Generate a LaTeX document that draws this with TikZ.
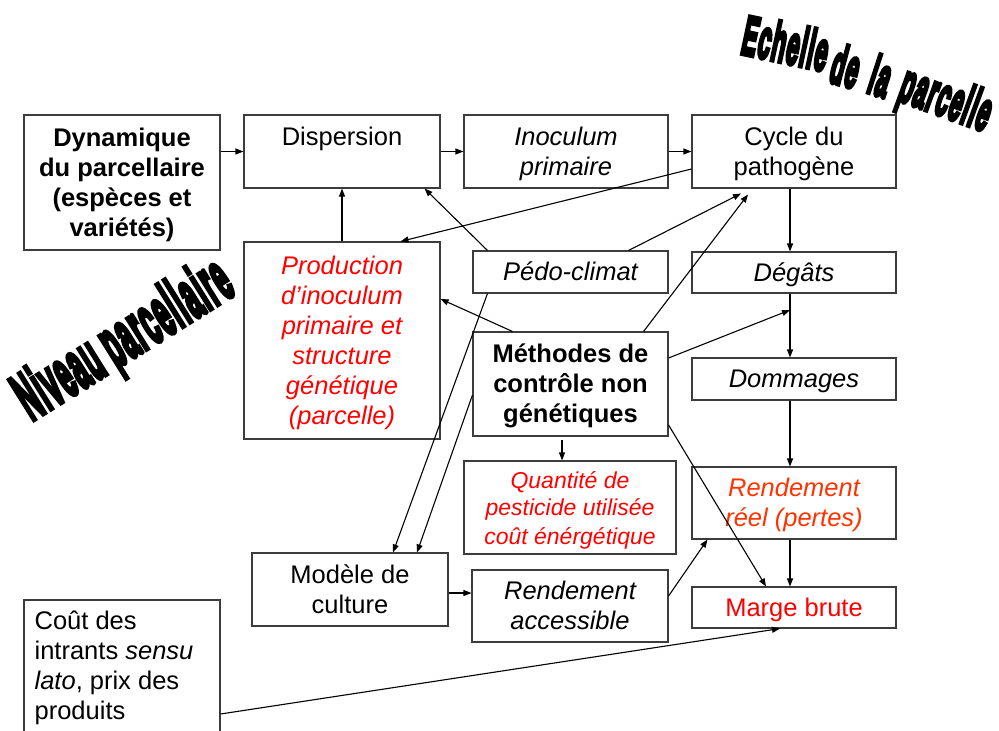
\documentclass[tikz,border=0pt]{standalone}
\usepackage{fontspec}
\setmainfont{Liberation Sans}
\newfontfamily\wafont[FakeBold=8,LetterSpace=5]{Liberation Sans Bold}
\usetikzlibrary{arrows.meta,calc}
\definecolor{boxgray}{RGB}{60,60,60}
\definecolor{txtred}{RGB}{255,0,0}
\definecolor{txtorange}{RGB}{255,51,0}
\newcommand\basefont{\fontsize{25.5}{30}\selectfont}
\newcommand\st{\rule[-5.4pt]{0pt}{28.5pt}}
\begin{document}
\begin{tikzpicture}[x=1pt,y=-1pt,
  box/.style={draw=boxgray, line width=1.1pt, inner sep=0pt, align=center, font=\basefont},
  itbox/.style={box, font=\basefont\itshape},
  bfbox/.style={box, font=\basefont\bfseries},
  conn/.style={line width=1.1pt, -{Triangle[length=8pt,width=6pt]}},
  wordart/.style={inner sep=0pt, font={\wafont\fontsize{24}{24}\selectfont}}
]
\useasboundingbox (0,0) rectangle (999,731);
\clip (0,0) rectangle (999,731);
\fill[white] (0,0) rectangle (999,731);

% boxes
\node[bfbox, minimum width=196pt, minimum height=135pt] (dyn) at (122,182.5) {\st Dynamique\\du parcellaire\\(espèces et\\\st variétés)};
\node[box, minimum width=196pt, minimum height=73pt] (disp) at (342,151.5) {\st Dispersion\\\st\phantom{Dispersion}};
\node[itbox, minimum width=204pt, minimum height=73pt] (inoc) at (566,151.5) {\st Inoculum\\\st primaire};
\node[box, minimum width=204pt, minimum height=73pt] (cycle) at (794,151.5) {\st Cycle du\\\st pathogène};
\node[itbox, text=txtred, minimum width=196pt, minimum height=197pt] (prod) at (342,340.5) {\st Production\\d’inoculum\\primaire et\\structure\\génétique\\\st(parcelle)};
\node[itbox, minimum width=195pt, minimum height=42pt] (pedo) at (570.5,272) {\st Pédo-climat};
\node[itbox, minimum width=204pt, minimum height=41pt] (degats) at (794,272.5) {\st Dégâts};
\node[bfbox, minimum width=195pt, minimum height=104pt] (meth) at (570.5,384) {\st Méthodes de\\contrôle non\\\st génétiques};
\node[itbox, minimum width=204pt, minimum height=42pt] (dom) at (794,379) {\st Dommages};
\node[box, font=\fontsize{23}{27}\selectfont\itshape, text=txtred, minimum width=212pt, minimum height=93pt] (quant) at (570,507.5) {\st Quantité de\\pesticide utilisée\\\st coût énérgétique};
\node[itbox, text=txtorange, minimum width=204pt, minimum height=72pt] (reel) at (794,503) {\st Rendement\\\st réel (pertes)};
\node[box, minimum width=196pt, minimum height=73pt] (modele) at (350,589.5) {\st Modèle de\\\st culture};
\node[itbox, minimum width=196pt, minimum height=72pt] (racc) at (570,606) {\st Rendement\\\st accessible};
\node[box, text=txtred, minimum width=204pt, minimum height=41pt] (marge) at (794,607.5) {\st Marge brute};
\node[box, minimum width=196pt, minimum height=160pt] (cout) at (122,680) {};
\node[anchor=north west, inner sep=0pt, align=left, font=\basefont] (couttxt) at ([xshift=11pt,yshift=-11pt]cout.north west) {Coût des\\intrants \textit{sensu}\\\textit{lato}, prix des\\produits};

% word art
\node[wordart, rotate=32] (niveau) at (125,342) {\scalebox{1.08}[2.8]{Niveau parcellaire}};
\node[wordart, rotate=-12] (w1) at (786,43) {\scalebox{0.95}[2.3]{Echelle}};
\node[wordart, rotate=-15] (w2) at (846,66) {\scalebox{0.95}[2.3]{de}};
\node[wordart, rotate=-18] (w3) at (881,76) {\scalebox{0.95}[2.3]{la}};
\node[wordart, rotate=-20] (w4) at (945,102) {\scalebox{0.95}[2.3]{parcelle}};

% connectors
\draw[conn] (dyn.east |- disp.west) -- (disp.west);
\draw[conn] (disp.east) -- (inoc.west);
\draw[conn] (inoc.east) -- (cycle.west);
\draw[conn] ([xshift=-4pt]cycle.south) -- ([xshift=-4pt]degats.north);
\draw[conn] ([xshift=-4pt]degats.south) -- ([xshift=-4pt]dom.north);
\draw[conn] ([xshift=-4pt]dom.south) -- ([xshift=-4pt]reel.north);
\draw[conn] ([xshift=-4pt]reel.south) -- ([xshift=-4pt]marge.north);
\draw[conn] (prod.north) -- (disp.south);
\draw[conn] ([xshift=15pt]pedo.north west) -- ([xshift=-16pt]disp.south east);
\draw[conn] ([yshift=-17.5pt]cycle.west) -- ([xshift=-40pt]prod.north east);
\draw[conn] ([xshift=-40pt]pedo.north east) -- ([xshift=-53pt,yshift=-5pt]cycle.south);
\draw[conn] ([xshift=-25pt]meth.north east) -- ([xshift=-46pt,yshift=-6pt]cycle.south);
\draw[conn] ([xshift=40pt]meth.north west) -- ([yshift=41.5pt]prod.east);
\coordinate (dd) at (790,310);
\draw[conn] ([yshift=26pt]meth.east) -- (dd);
\draw[conn] ([xshift=-8.5pt,yshift=-3pt]meth.south) -- ([xshift=-8pt]quant.north);
\draw[conn] ([yshift=-41pt]meth.east) -- ([xshift=-28pt]marge.north);
\draw[conn] ([xshift=15pt]pedo.south west) -- ([xshift=43pt]modele.north);
\draw[conn] ([yshift=-11pt]meth.west) -- ([xshift=67pt]modele.north);
\coordinate (m1) at ([yshift=-3.5pt]modele.east);
\draw[conn] (m1) -- (m1 -| racc.west);
\draw[conn] ([yshift=10pt]racc.east) -- ([xshift=16pt]reel.south west);
\draw[conn] ([yshift=-34pt]cout.east) -- ([xshift=-14pt]marge.south);
\end{tikzpicture}
\end{document}
